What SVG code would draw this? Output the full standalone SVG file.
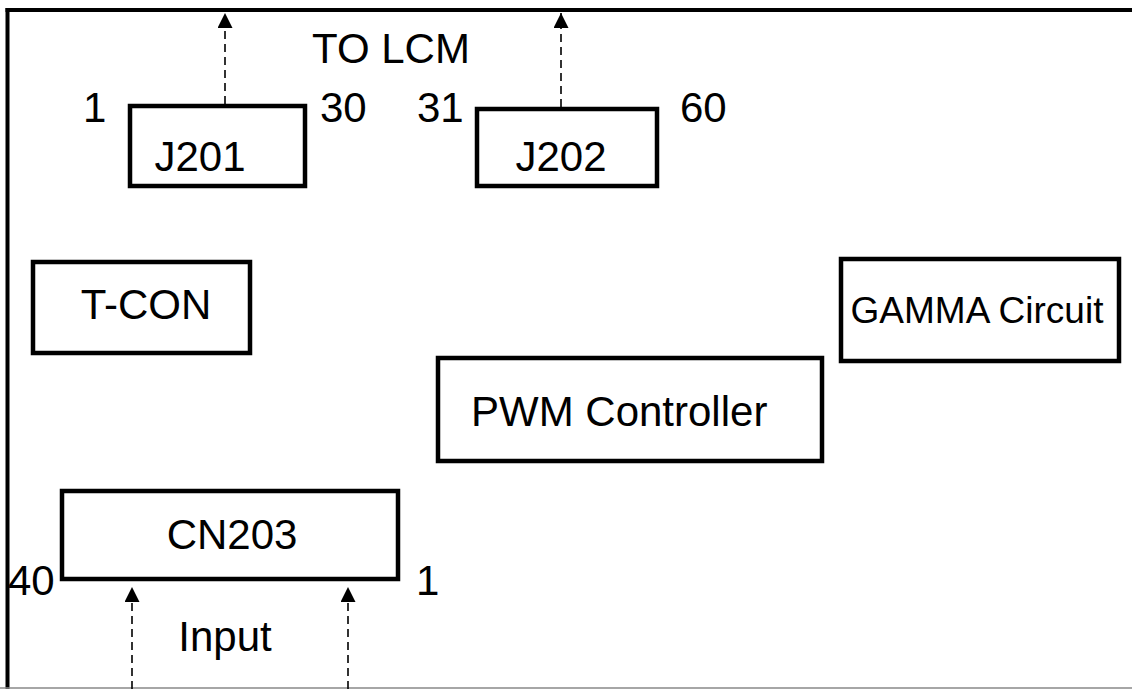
<svg xmlns="http://www.w3.org/2000/svg" width="1132" height="689" viewBox="0 0 1132 689">
<style>
.box{fill:#fff;stroke:#000;stroke-width:4.5}
.t{font-family:"Liberation Sans",Arial,sans-serif;font-size:42px;fill:#000}
.s{font-size:37px}
.c{stroke:#000;stroke-width:1.6;stroke-dasharray:8 5;fill:none}
.frame{stroke:#000;stroke-width:4;fill:none}
</style>
<defs>
<marker id="ah" viewBox="0 0 10 10" refX="10" refY="5" markerWidth="15" markerHeight="15" markerUnits="userSpaceOnUse" orient="auto">
<path d="M0,0 L10,5 L0,10 z" fill="#000"/>
</marker>
</defs>
<rect width="1132" height="689" fill="#fff"/>
<g id="frame">
<line class="frame" x1="5.5" y1="10" x2="1132" y2="10"/>
<line class="frame" x1="7.5" y1="8" x2="7.5" y2="689"/>
<line x1="0" y1="688" x2="1132" y2="688" stroke="#888" stroke-width="1.5"/>
</g>
<g id="connectors">
<line class="c" x1="225" y1="104" x2="225" y2="13" marker-end="url(#ah)"/>
<line class="c" x1="561" y1="107" x2="561" y2="13" marker-end="url(#ah)"/>
<line class="c" x1="132" y1="689" x2="132" y2="587" marker-end="url(#ah)"/>
<line class="c" x1="348" y1="689" x2="348" y2="587" marker-end="url(#ah)"/>
</g>
<g id="labels">
<text class="t" x="391" y="63" text-anchor="middle">TO LCM</text>
<text class="t" x="83" y="122">1</text>
<text class="t" x="320" y="122">30</text>
<text class="t" x="417" y="122">31</text>
<text class="t" x="680" y="122">60</text>
<text class="t" x="8" y="595">40</text>
<text class="t" x="416" y="595">1</text>
<text class="t" x="225" y="651" text-anchor="middle">Input</text>
</g>
<g id="J201">
<rect class="box" x="130" y="106" width="175" height="80"/>
<text class="t" x="200" y="171" text-anchor="middle">J201</text>
</g>
<g id="J202">
<rect class="box" x="477" y="109" width="180" height="77"/>
<text class="t" x="561" y="171" text-anchor="middle">J202</text>
</g>
<g id="T-CON">
<rect class="box" x="33" y="262" width="217" height="91"/>
<text class="t" x="146" y="319" text-anchor="middle">T-CON</text>
</g>
<g id="GAMMA">
<rect class="box" x="841" y="259" width="278" height="102"/>
<text class="t s" x="977" y="323" text-anchor="middle">GAMMA Circuit</text>
</g>
<g id="PWM">
<rect class="box" x="438" y="358" width="384" height="103"/>
<text class="t" x="471" y="426">PWM Controller</text>
</g>
<g id="CN203">
<rect class="box" x="62" y="491" width="336" height="88"/>
<text class="t" x="232" y="549" text-anchor="middle">CN203</text>
</g>
</svg>
